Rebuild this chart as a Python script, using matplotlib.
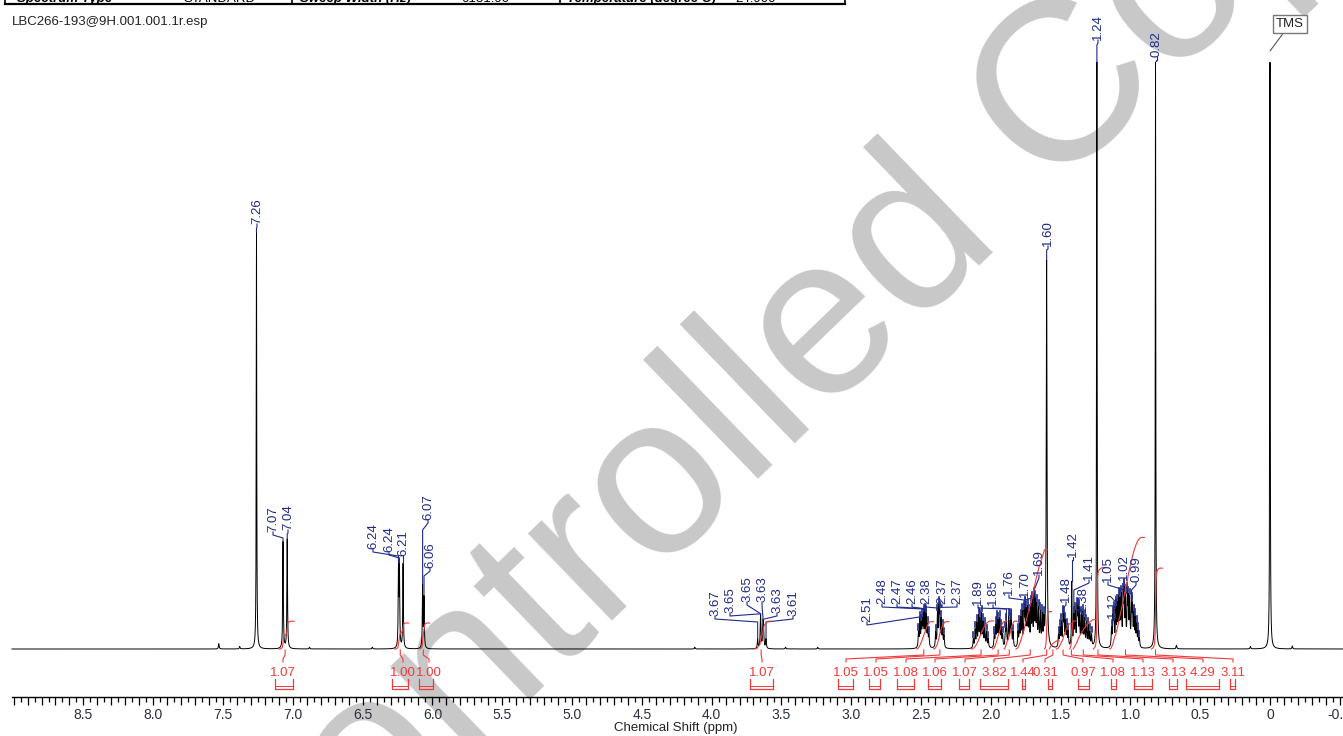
import numpy as np
import matplotlib.pyplot as plt
from matplotlib.ticker import FixedLocator, FuncFormatter

plt.rcParams['font.family'] = ['Liberation Sans', 'DejaVu Sans']
plt.rcParams['axes.unicode_minus'] = False

# ---------------- data ----------------
# isolated lines: shift (ppm), height (% of full scale), half width (ppm)
sharp_ppm = [7.26, 7.07, 7.04, 6.243, 6.236, 6.21, 6.07, 6.06,
             3.67, 3.65, 3.648, 3.632, 3.628, 3.61,
             1.60, 1.42, 1.24, 0.82, 0.00,
             7.53, 7.38, 6.88, 6.43, 4.12, 3.47, 3.24, 0.67, 0.14, -0.16]
sharp_height = [71.0, 18.2, 18.6, 13.0, 13.0, 14.4, 10.5, 8.5,
                1.6, 3.0, 3.2, 3.6, 3.2, 1.6,
                66.0, 11.0, 100.0, 100.0, 100.0,
                0.9, 0.4, 0.3, 0.3, 0.3, 0.3, 0.3, 0.6, 0.4, 0.5]
sharp_width = [0.002, 0.0025, 0.0025, 0.0025, 0.0025, 0.0025, 0.0025, 0.0025,
               0.003, 0.003, 0.003, 0.003, 0.003, 0.003,
               0.003, 0.0025, 0.002, 0.002, 0.002,
               0.003, 0.003, 0.003, 0.003, 0.003, 0.003, 0.003, 0.003, 0.003, 0.003]

# aliphatic multiplet lines: shift (ppm), height (% of full scale)
multiplet_ppm = [
    2.518, 2.508, 2.498, 2.490, 2.482, 2.472, 2.462, 2.452, 2.443,
    2.395, 2.382, 2.372, 2.366, 2.355, 2.345, 2.335,
    2.125, 2.112, 2.100, 2.088, 2.078, 2.066, 2.055, 2.043, 2.030, 2.018,
    1.975, 1.965, 1.955, 1.945, 1.935, 1.925, 1.915,
    1.895, 1.888, 1.872, 1.860, 1.852, 1.840,
    1.805, 1.795, 1.785, 1.775, 1.762, 1.755, 1.745, 1.735, 1.725, 1.712,
    1.702, 1.690, 1.680, 1.670, 1.658, 1.645, 1.632, 1.620,
    1.515, 1.505, 1.495, 1.482, 1.475, 1.465, 1.455, 1.445,
    1.405, 1.395, 1.382, 1.375, 1.365, 1.352, 1.340, 1.328, 1.315, 1.302, 1.290, 1.278,
    1.135, 1.125, 1.118, 1.105, 1.095, 1.085, 1.075, 1.065, 1.052, 1.045, 1.035,
    1.022, 1.015, 1.005, 0.992, 0.985, 0.975, 0.965, 0.955, 0.945, 0.935]
multiplet_height = [
    2.5, 4.5, 3.5, 4.0, 5.0, 5.5, 5.0, 3.5, 2.0,
    2.5, 5.5, 6.0, 5.0, 4.5, 3.0, 2.0,
    1.5, 3.0, 4.0, 5.0, 4.5, 5.5, 4.0, 3.5, 2.5, 1.5,
    2.0, 3.5, 4.5, 4.0, 4.5, 3.0, 2.0,
    2.5, 4.0, 5.0, 4.5, 4.0, 2.5,
    2.5, 3.5, 4.5, 5.5, 5.0, 6.0, 5.5, 6.0, 5.0, 6.5,
    7.0, 7.8, 7.0, 6.5, 6.0, 5.5, 5.0, 4.0,
    2.0, 3.0, 4.0, 5.0, 4.5, 4.0, 3.0, 2.5,
    5.0, 5.5, 6.0, 5.5, 6.0, 5.0, 5.5, 4.5, 4.0, 3.5, 2.5, 2.0,
    3.0, 4.5, 5.5, 6.0, 6.5, 7.5, 7.0, 8.0, 7.5, 8.3, 7.5,
    8.0, 7.0, 7.5, 6.5, 6.0, 5.0, 4.5, 3.5, 2.5, 1.5]
multiplet_width = 0.003

# picked peaks
peak_text = ["7.26", "7.07", "7.04", "6.24", "6.24", "6.21", "6.07", "6.06",
             "3.67", "3.65", "3.65", "3.63", "3.63", "3.61",
             "2.51", "2.48", "2.47", "2.46", "2.38", "2.37", "2.37",
             "1.89", "1.85", "1.76", "1.70", "1.69", "1.60", "1.48", "1.42",
             "1.38", "1.41", "1.24", "1.12", "1.05", "1.02", "0.99", "0.82"]
peak_ppm = [7.26, 7.07, 7.04, 6.243, 6.236, 6.21, 6.07, 6.06,
            3.67, 3.65, 3.648, 3.632, 3.628, 3.61,
            2.508, 2.482, 2.472, 2.462, 2.382, 2.372, 2.366,
            1.888, 1.852, 1.762, 1.702, 1.690, 1.60, 1.482, 1.42,
            1.382, 1.405, 1.24, 1.118, 1.052, 1.022, 0.992, 0.82]

# integrals
integral_value = [1.07, 1.00, 1.00, 1.07, 1.05, 1.05, 1.08, 1.06, 1.07,
                  3.82, 1.44, 0.31, 0.97, 1.08, 1.13, 3.13, 4.29, 3.11]
integral_from = [7.10, 6.27, 6.09, 3.70, 2.53, 2.41, 2.14, 1.99, 1.905,
                 1.82, 1.615, 1.58, 1.53, 1.435, 1.41, 1.265, 1.15, 0.85]
integral_to = [7.01, 6.19, 6.04, 3.59, 2.43, 2.32, 2.00, 1.905, 1.83,
               1.615, 1.585, 1.53, 1.435, 1.41, 1.265, 1.20, 0.92, 0.79]

# ---------------- layout (pixel positions in the 1343x736 picture) ----------------
label_x = [257, 273, 288, 373, 389, 403, 428, 430,
           715, 730, 747, 762, 777, 793,
           867, 882, 897, 912, 926, 942, 957,
           978, 993, 1009, 1025, 1039, 1048, 1066, 1073,
           1083, 1089, 1098, 1113, 1108, 1124, 1136, 1157]
label_bottom = [224, 532, 530, 549, 552, 556, 520, 568,
                616, 613, 602, 602, 613, 616,
                622, 604, 604, 604, 604, 604, 604,
                605, 605, 595, 597, 575, 246, 602, 557,
                612, 580, 40, 618, 582, 580, 582, 57]
label_knee = [228, 538, 534, 556, 558, 559, 530, 576,
              622, 621, 618, 618, 621, 622,
              628, 609, 609, 609, 608, 608, 608,
              609, 609, 600, 601, 590, 250, 608, 560,
              616, 590, 45, 622, 590, 588, 590, 60]

int_label_x = [283, 403, 429, 762, 846, 876, 906, 935, 965,
               994, 1023, 1045, 1083, 1113, 1143, 1173, 1203, 1233]
int_bracket = [(275, 293), (392, 408), (419, 433), (750, 773), (838, 853),
               (869, 880), (897, 914), (928, 941), (959, 969), (980, 1008),
               (1022, 1025), (1048, 1052), (1078, 1089), (1111, 1116),
               (1134, 1152), (1169, 1177), (1186, 1219), (1230, 1235)]

W, H = 1343, 736
PX_PER_PPM = 139.6
X0 = 1270          # pixel column of 0 ppm
BASE = 649         # pixel row of the baseline
PX_PER_UNIT = 5.87
H_PER_PROTON = 26 / PX_PER_UNIT


def X(px):
    return (X0 - px) / PX_PER_PPM


def Y(py):
    return (BASE - py) / PX_PER_UNIT


BLUE = '#1f2a8a'
RED = '#f03a3a'

# ---------------- spectrum ----------------
ppm = np.linspace(-0.55, X(12), 60000)
spec = np.zeros_like(ppm)
for c, h, w in zip(sharp_ppm, sharp_height, sharp_width):
    spec += h / (1 + ((ppm - c) / w) ** 2)
for c, h in zip(multiplet_ppm, multiplet_height):
    spec += h / (1 + ((ppm - c) / multiplet_width) ** 2)


def top_at(c):
    m = np.abs(ppm - c) < 0.0015
    return min(spec[m].max(), Y(62))


fig = plt.figure(figsize=(W / 100, H / 100), dpi=100)
ax = fig.add_axes([0, 0, 1, 1])
ax.set_xlim(X(0), X(W))
ax.set_ylim(Y(H), Y(0))

ax.text(0.598, 0.52, "Controlled Copy", transform=ax.transAxes,
        rotation=44, rotation_mode='anchor', ha='center', va='center',
        fontsize=165, color='#c8c8c8', zorder=0)

ax.plot(ppm, np.minimum(spec, Y(62)), color='black', lw=0.7, zorder=3)

# blue markers on picked multiplet lines
for c, h in zip(multiplet_ppm, multiplet_height):
    t = top_at(c)
    ax.plot([c, c], [t + 0.2, t + 1.1], color=BLUE, lw=1.2, zorder=4)

# peak labels with leaders
for txt, c, lx, tb, kn in zip(peak_text, peak_ppm, label_x, label_bottom, label_knee):
    t = top_at(c)
    yk = max(Y(kn), t + 0.2)
    ax.plot([X(lx), X(lx), c, c], [Y(tb), Y(tb + 3), yk, t + 0.1],
            color=BLUE, lw=0.8, zorder=4)
    ax.text(X(lx), Y(tb), txt, rotation=90, ha='center', va='bottom',
            fontsize=9.5, color=BLUE, zorder=5)

# TMS callout
ax.annotate("TMS", xy=(0.0, Y(51)), xytext=(X(1290), Y(24)),
            ha='center', va='center', fontsize=9.5, color='#222222',
            bbox=dict(boxstyle='square,pad=0.25', fc='white', ec='#777777', lw=1),
            arrowprops=dict(arrowstyle='-', color='#555555', lw=0.8,
                            shrinkA=0, shrinkB=0))

# integrals
for v, a, b, lx, (bl, br) in zip(integral_value, integral_from, integral_to,
                                   int_label_x, int_bracket):
    m = (ppm <= a) & (ppm >= b)
    xs = ppm[m][::-1]
    cs = np.cumsum(spec[m][::-1])
    cs = cs / cs[-1] * v * H_PER_PROTON
    ax.plot(np.r_[xs, b - 0.02], np.r_[cs, cs[-1]], color=RED, lw=0.8, zorder=4)
    rc = (a + b) / 2
    ax.plot([rc, rc, X(lx), X(lx)], [Y(650), Y(655), Y(659), Y(662)],
            color=RED, lw=0.8, zorder=4)
    ax.text(X(lx), Y(673), f"{v:.2f}", ha='center', va='center',
            fontsize=9.5, color=RED, zorder=5)
    ax.plot([X(bl), X(bl), X(br), X(br)], [Y(679), Y(689), Y(689), Y(679)],
            color=RED, lw=0.9, zorder=4)
    ax.plot([X(bl), X(br)], [Y(686), Y(686)], color=RED, lw=0.7, zorder=4)

# ppm axis
for s in ['left', 'right', 'top']:
    ax.spines[s].set_visible(False)
ax.spines['bottom'].set_position(('data', Y(697)))
ax.spines['bottom'].set_bounds(X(12), X(W))
ax.spines['bottom'].set_linewidth(1.0)
ax.yaxis.set_visible(False)
ax.xaxis.set_major_locator(FixedLocator(np.round(np.arange(-0.5, 9.01, 0.1), 2)))
ax.xaxis.set_minor_locator(FixedLocator(np.round(np.arange(-0.45, 9.0, 0.1), 2)))


def fmt(v, pos):
    if abs(v * 2 - round(v * 2)) > 1e-6 or v > 8.9:
        return ''
    return '0' if abs(v) < 1e-9 else f'{v:.1f}'


ax.xaxis.set_major_formatter(FuncFormatter(fmt))
ax.tick_params(axis='x', which='major', direction='out', length=6, width=0.9,
               pad=2, labelsize=10, labelcolor='#2a2f3d')
ax.tick_params(axis='x', which='minor', direction='out', length=3.5, width=0.9)
ax.set_xlabel("Chemical Shift (ppm)", fontsize=9.5, color='#222222')
ax.xaxis.set_label_coords(676 / W, 1 - 728 / H)
ax.xaxis.label.set_va('center')

# header (cut-off parameter table) and file name
for px in [5, 292, 560, 845]:
    ax.plot([X(px), X(px)], [Y(0), Y(4)], color='black', lw=1.2, clip_on=False)
ax.plot([X(5), X(845)], [Y(4), Y(4)], color='black', lw=1.6, clip_on=False)
head = [(17, "Spectrum Type", 'bold'), (183, "STANDARD", 'normal'),
        (300, "Sweep Width (Hz)", 'bold'), (461, "6131.90", 'normal'),
        (567, "Temperature (degree C)", 'bold'), (735, "24.900", 'normal')]
for px, s, wt in head:
    ax.text(X(px), Y(2), s, ha='left', va='baseline', fontsize=9.5,
            fontweight=wt, fontstyle='italic' if wt == 'bold' else 'normal',
            color='black')
ax.text(X(12), Y(22), "LBC266-193@9H.001.001.1r.esp", ha='left', va='center',
        fontsize=9.5, color='#222222')

fig.savefig("out.png", dpi=100)
